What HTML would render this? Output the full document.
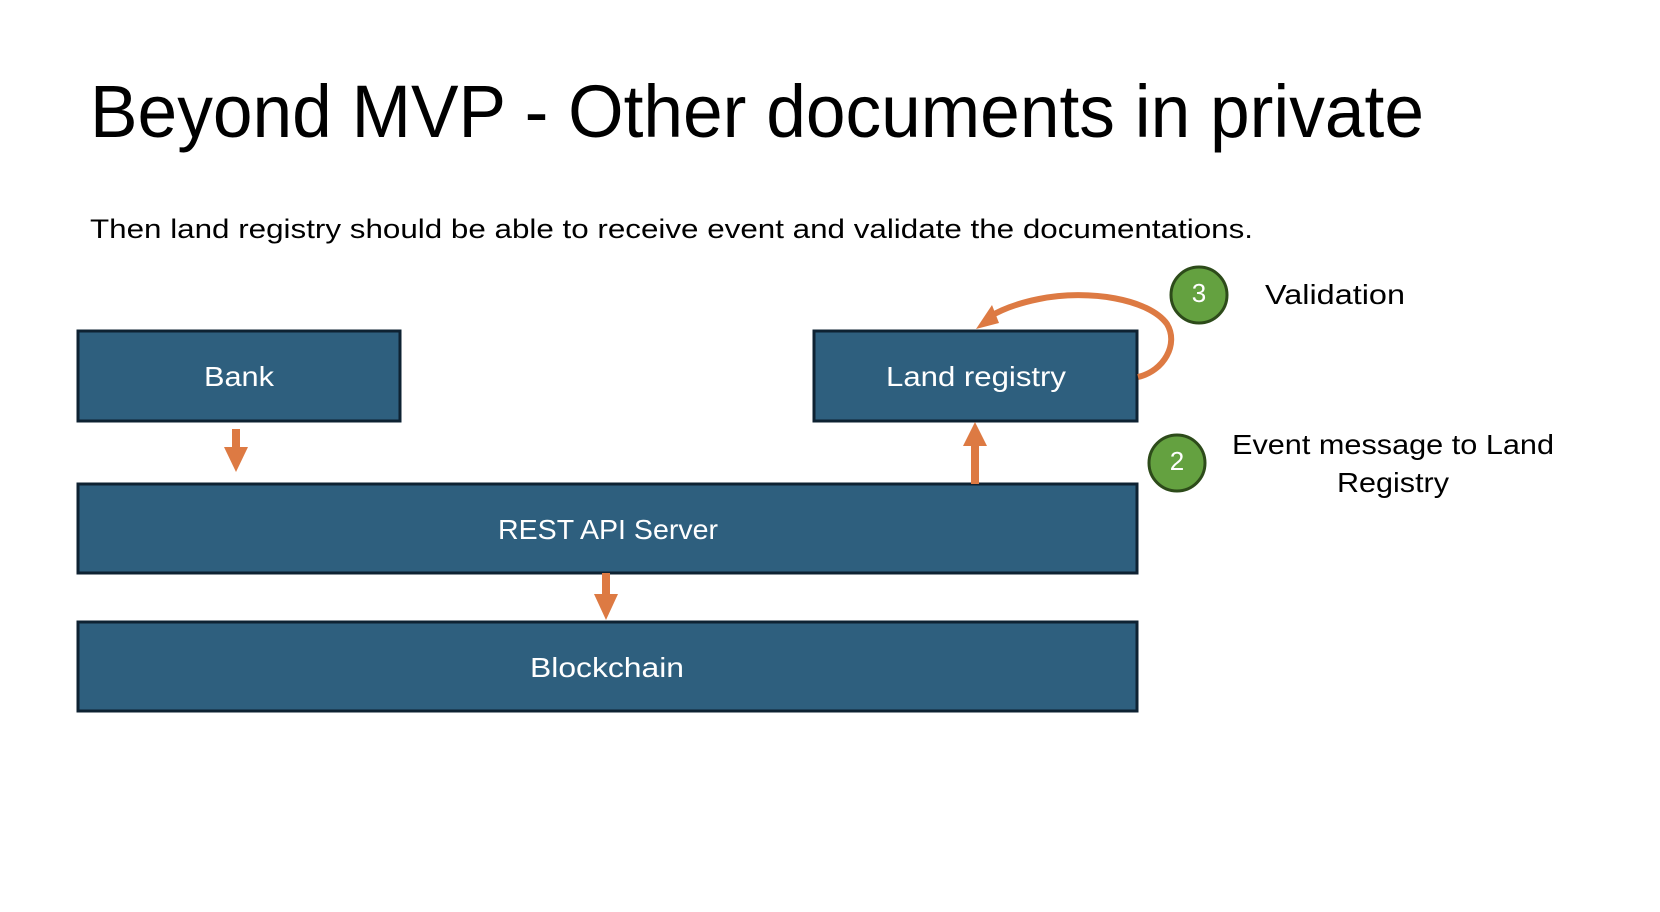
<!DOCTYPE html>
<html><head><style>
html,body{margin:0;padding:0;background:#fff;}
body{width:1660px;height:912px;position:relative;overflow:hidden;font-family:"Liberation Sans",sans-serif;}
</style></head><body>
<svg width="1660" height="912" viewBox="0 0 1660 912" xmlns="http://www.w3.org/2000/svg" style="position:absolute;left:0;top:0">
<text x="90" y="137" font-family="Liberation Sans, sans-serif" font-size="74" fill="#000" textLength="1334" lengthAdjust="spacingAndGlyphs">Beyond MVP - Other documents in private</text>
<text x="90" y="238" font-family="Liberation Sans, sans-serif" font-size="27" fill="#000" textLength="1163" lengthAdjust="spacingAndGlyphs">Then land registry should be able to receive event and validate the documentations.</text>
<g fill="#2e5f7e" stroke="#0e2232" stroke-width="3">
<rect x="78" y="331" width="322" height="90"/>
<rect x="814" y="331" width="323" height="90"/>
<rect x="78" y="484" width="1059" height="89"/>
<rect x="78" y="622" width="1059" height="89"/>
</g>
<g font-family="Liberation Sans, sans-serif" font-size="28" fill="#fff" text-anchor="middle">
<text x="239" y="386" textLength="70" lengthAdjust="spacingAndGlyphs">Bank</text>
<text x="976" y="386" textLength="180" lengthAdjust="spacingAndGlyphs">Land registry</text>
<text x="608" y="539" textLength="220" lengthAdjust="spacingAndGlyphs">REST API Server</text>
<text x="607" y="677" textLength="154" lengthAdjust="spacingAndGlyphs">Blockchain</text>
</g>
<g fill="#dd7a43">
<rect x="232" y="429" width="8" height="20"/><polygon points="224,447 248,447 236,472"/>
<rect x="602" y="573" width="8" height="23"/><polygon points="594,594 618,594 606,620"/>
<rect x="971" y="444" width="8" height="40"/><polygon points="963,446 987,446 975,422"/>
</g>
<path d="M1138,377 C1164,371 1179,344 1167,324 C1149,299 1089,289 1039,299 C1014,304 999,311 989,317" fill="none" stroke="#dd7a43" stroke-width="6"/>
<polygon points="976,329 992,305 999,323" fill="#dd7a43"/>
<circle cx="1199" cy="295" r="28" fill="#64a140" stroke="#2d4b1a" stroke-width="3"/>
<text x="1199" y="302" font-family="Liberation Sans, sans-serif" font-size="26" fill="#fff" text-anchor="middle">3</text>
<circle cx="1177" cy="463" r="28" fill="#64a140" stroke="#2d4b1a" stroke-width="3"/>
<text x="1177" y="470" font-family="Liberation Sans, sans-serif" font-size="26" fill="#fff" text-anchor="middle">2</text>
<g font-family="Liberation Sans, sans-serif" font-size="28" fill="#000">
<text x="1265" y="304" textLength="140" lengthAdjust="spacingAndGlyphs">Validation</text>
<text x="1393" y="454" text-anchor="middle" textLength="322" lengthAdjust="spacingAndGlyphs">Event message to Land</text>
<text x="1393" y="492" text-anchor="middle" textLength="112" lengthAdjust="spacingAndGlyphs">Registry</text>
</g>
</svg>
</body></html>
